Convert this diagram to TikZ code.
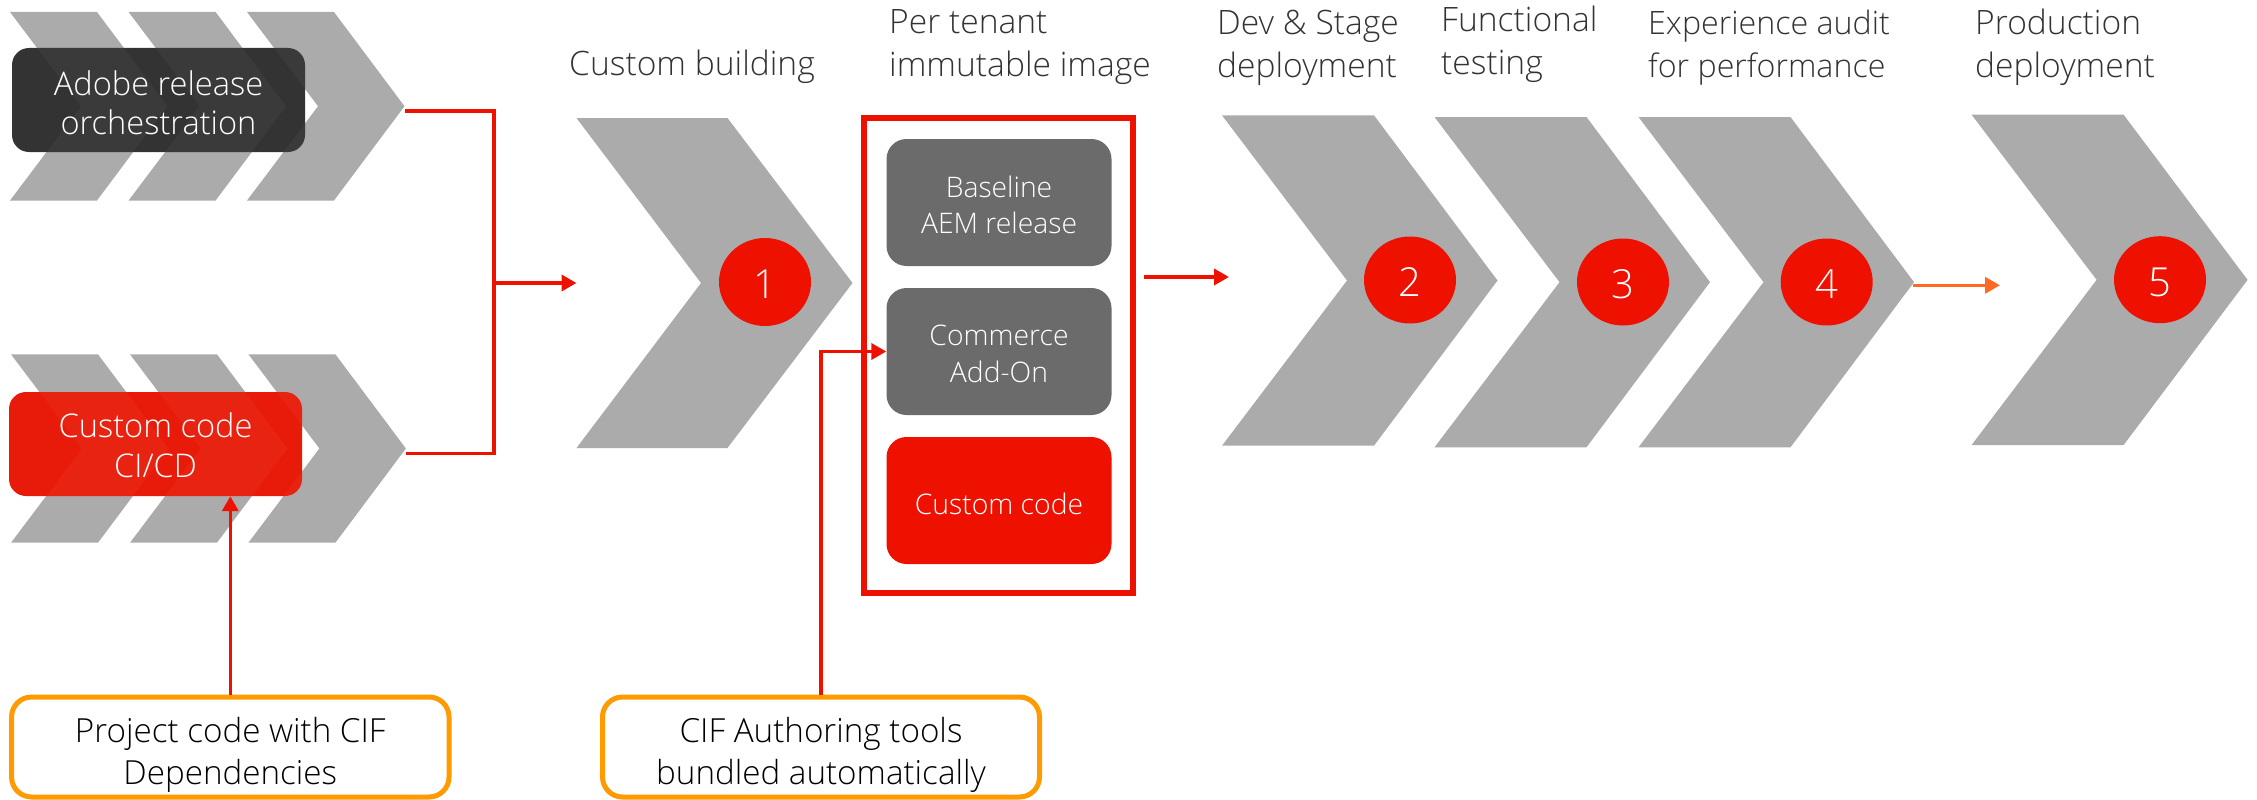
\documentclass[tikz,border=0pt]{standalone}
\usepackage{fontspec}
\setmainfont{Open Sans Light}
\usetikzlibrary{arrows.meta,shapes.geometric}
\definecolor{chevgray}{HTML}{ABABAB}
\definecolor{adred}{HTML}{EE1100}
\definecolor{redbase}{HTML}{E81B0A}
\definecolor{darkbox}{HTML}{333333}
\definecolor{midbox}{HTML}{6B6B6B}
\definecolor{ambr}{HTML}{FF9A00}
\definecolor{orangearrow}{HTML}{FF6A22}
\definecolor{headtxt}{HTML}{333333}
% name, left, top, bottom, arm, notch, width
\newcommand{\chevpath}[6]{%
  (#1,#2) -- ({#1+#4},#2) -- ({#1+#6},{(#2+#3)/2}) -- ({#1+#4},#3) -- (#1,#3) -- ({#1+#5},{(#2+#3)/2}) -- cycle}
\newcommand{\chevshape}[7]{%
  \pgfmathsetmacro{\midy}{(#3+#4)/2}
  \fill[chevgray] \chevpath{#2}{#3}{#4}{#5}{#6}{#7};
  \coordinate (#1-left) at (#2,\midy);
  \coordinate (#1-tip) at ({#2+#7},\midy);
}
\tikzset{
  x=1pt,y=-1pt,
  linkline/.style={draw=adred,line width=3.6pt},
  linkarrow/.style={linkline,-{Triangle[length=15pt,width=16pt]}},
  headlabel/.style={anchor=west,align=left,text=headtxt,font=\fontsize{33.6}{43}\selectfont,inner sep=0pt},
  numcircle/.style={ellipse,fill=adred,text=white,inner sep=0pt,text height=33pt,text depth=0pt,font=\fontsize{40}{40}\selectfont},
  relbox/.style={rounded corners=17pt,inner sep=0pt,minimum width=293pt,minimum height=104pt},
  reltext/.style={inner sep=0pt,text=white,align=center,font=\fontsize{32.6}{39.5}\selectfont},
  imgbox/.style={rounded corners=20pt,inner sep=0pt,minimum width=225pt,minimum height=127pt},
  imgtext/.style={inner sep=0pt,text=white,align=center,font=\fontsize{28.3}{36.5}\selectfont},
  notebox/.style={draw=ambr,line width=5pt,fill=white,rounded corners=20pt,inner sep=0pt,minimum height=100pt},
  notetext/.style={inner sep=0pt,text=black,align=center,font=\fontsize{33.2}{42.5}\selectfont},
  boxglow/.style={fill=white,fill opacity=.035},
}
\begin{document}
\begin{tikzpicture}
\useasboundingbox (0,0) rectangle (2257,800);
% top stacked chevrons
\chevshape{a1}{10}{12}{200.5}{87}{71}{157.5}
\chevshape{a2}{128.6}{12}{200.5}{87}{71}{157.5}
\chevshape{a3}{247}{12}{200.5}{87}{71}{157.5}
% bottom stacked chevrons
\chevshape{b1}{11}{354.3}{542.7}{87}{71}{157.5}
\chevshape{b2}{130}{354.3}{542.7}{87}{71}{157.5}
\chevshape{b3}{248.4}{354.3}{542.7}{87}{71}{157.5}
% main chevrons
\chevshape{c1}{576.5}{118}{448}{151}{124.5}{276}
\chevshape{c2}{1222}{115.3}{445.7}{152}{125}{275.5}
\chevshape{c3}{1434.5}{117}{447.3}{152}{125}{275.5}
\chevshape{c4}{1638.5}{117}{447.3}{152}{125}{275.5}
\chevshape{c5}{1971.6}{114.7}{445}{152}{125}{276}
% left boxes: base fill, the chevrons showing through, then the text
\node[relbox,fill=darkbox] (adobe) at (158.5,100) {};
\begin{scope}
  \clip[rounded corners=17pt] (adobe.north west) rectangle (adobe.south east);
  \fill[boxglow] \chevpath{10}{12}{200.5}{87}{71}{157.5};
  \fill[boxglow] \chevpath{128.6}{12}{200.5}{87}{71}{157.5};
  \fill[boxglow] \chevpath{247}{12}{200.5}{87}{71}{157.5};
\end{scope}
\node[reltext] (adobetext) at (158.5,103) {Adobe release\\orchestration};
\node[relbox,fill=redbase] (ccode) at (155.5,444) {};
\begin{scope}
  \clip[rounded corners=17pt] (ccode.north west) rectangle (ccode.south east);
  \fill[boxglow] \chevpath{11}{354.3}{542.7}{87}{71}{157.5};
  \fill[boxglow] \chevpath{130}{354.3}{542.7}{87}{71}{157.5};
  \fill[boxglow] \chevpath{248.4}{354.3}{542.7}{87}{71}{157.5};
\end{scope}
\node[reltext] (ccodetext) at (155.5,445.5) {Custom code\\CI/CD};
% circles
\node[numcircle,minimum width=92pt,minimum height=88pt] (n1) at (765,282) {1};
\node[numcircle,minimum width=92pt,minimum height=87pt] (n2) at (1410,280) {2};
\node[numcircle,minimum width=92pt,minimum height=87pt] (n3) at (1623,282) {3};
\node[numcircle,minimum width=92pt,minimum height=87pt] (n4) at (1826.7,282) {4};
\node[numcircle,minimum width=92pt,minimum height=87pt] (n5) at (2160,279.7) {5};
% frame and image boxes
\node[draw=adred,line width=5.4pt,minimum width=269pt,minimum height=475pt,inner sep=0pt] (frame) at (998.5,355.5) {};
\node[imgbox,fill=midbox] (base) at (999,202.5) {};
\node[imgbox,fill=midbox] (comm) at (999,351.5) {};
\node[imgbox,fill=adred] (cust) at (999,500.5) {};
\node[imgtext] (basetext) at (999,205) {Baseline\\AEM release};
\node[imgtext] (commtext) at (999,354) {Commerce\\Add-On};
\node[imgtext] (custtext) at (999,503.5) {Custom code};
% notes
\node[notebox,minimum width=437.5pt] (note1) at (230.3,747) {};
\node[notebox,minimum width=437pt] (note2) at (821,747) {};
\node[notetext] (note1text) at (230.3,755) {Project code with CIF\\Dependencies};
\node[notetext] (note2text) at (821,755) {CIF Authoring tools\\bundled automatically};
% headers
\node[headlabel] (h1) at (569,66.5) {Custom building};
\node[headlabel] (h2) at (889,47.5) {Per tenant\\immutable image};
\node[headlabel] (h3) at (1217,47.5) {Dev \& Stage\\deployment};
\node[headlabel] (h4) at (1441,44.5) {Functional\\testing};
\node[headlabel,font=\fontsize{32.2}{43}\selectfont] (h5) at (1648,47.5) {Experience audit\\for performance};
\node[headlabel] (h6) at (1975,47.5) {Production\\deployment};
% connectors
\coordinate (topend) at (404.5,111);
\coordinate (botend) at (405.5,453.3);
\coordinate (bus) at (493.7,283);
\draw[linkline,line join=miter] (topend) -- (bus |- topend) -- (bus |- botend) -- (botend);
\draw[linkarrow] (bus) -- (c1-left);
\draw[linkarrow] (note1.north) -- (note1.north |- ccode.south);
\draw[linkarrow] (note2.north) |- (comm.west);
\coordinate (outstart) at (1143.5,277);
\coordinate (outend) at (1229,277);
\draw[linkarrow] (outstart) -- (outend);
\coordinate (fourstart) at (1913,285.3);
\coordinate (fiveend) at (2000,285.3);
\draw[linkarrow,draw=orangearrow,fill=orangearrow] (fourstart) -- (fiveend);
\end{tikzpicture}
\end{document}
